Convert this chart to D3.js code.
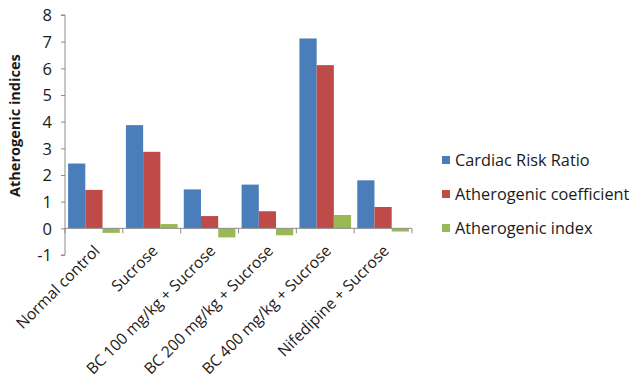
<!DOCTYPE html>
<html>
<head>
<meta charset="utf-8">
<script src="https://cdn.jsdelivr.net/npm/d3@7"></script>
<style>
  body { margin: 0; background: #fff; }
  svg text { font-family: "Open Sans", "DejaVu Sans", sans-serif; fill: #1a1a1a; }
</style>
</head>
<body>
<svg id="chart" width="644" height="383"></svg>
<script>
const categories = ["Normal control", "Sucrose", "BC 100 mg/kg + Sucrose",
  "BC 200 mg/kg + Sucrose", "BC 400 mg/kg + Sucrose", "Nifedipine + Sucrose"];
const seriesNames = ["Cardiac Risk Ratio", "Atherogenic coefficient", "Atherogenic index"];
const cardiacRiskRatio = [2.43, 3.87, 1.46, 1.64, 7.12, 1.80];
const atherogenicCoefficient = [1.44, 2.87, 0.46, 0.64, 6.12, 0.80];
const atherogenicIndex = [-0.17, 0.16, -0.34, -0.26, 0.50, -0.12];
const yTicks = [-1, 0, 1, 2, 3, 4, 5, 6, 7, 8];
const colors = ["#4a7ebb", "#be4b48", "#98b954"];

const seriesValues = [cardiacRiskRatio, atherogenicCoefficient, atherogenicIndex];
const svg = d3.select("#chart");

const plotLeft = 65, plotRight = 412, plotTop = 15, plotBottom = 255;

const x = d3.scaleBand().domain(categories).range([plotLeft, plotRight]).paddingInner(0).paddingOuter(0);
const inner = d3.scaleBand().domain(d3.range(seriesNames.length))
  .range([0, x.bandwidth()]).paddingInner(0).paddingOuter(0.18);
const y = d3.scaleLinear().domain([-1, 8]).range([plotBottom, plotTop]);

// bars
seriesNames.forEach((name, s) => {
  svg.append("g").selectAll("rect")
    .data(categories.map((c, i) => ({ c, v: seriesValues[s][i] })))
    .join("rect")
    .attr("x", d => x(d.c) + inner(s))
    .attr("width", inner.bandwidth())
    .attr("y", d => y(Math.max(0, d.v)))
    .attr("height", d => Math.abs(y(d.v) - y(0)))
    .attr("fill", colors[s]);
});

// y axis
const yAxis = svg.append("g")
  .attr("transform", `translate(${plotLeft},0)`)
  .call(d3.axisLeft(y).tickValues(yTicks).tickSize(4).tickPadding(9).tickFormat(d => String(d)));
yAxis.selectAll("path, line").attr("stroke", "#8c8c8c");
yAxis.select(".domain").attr("d", `M-4,${plotBottom}H0V${plotTop}H-4`);
yAxis.selectAll("text").style("font-size", "16.5px").attr("dy", "0.35em");

// category axis along zero
const boundaries = categories.map(c => x(c)).concat([plotRight]);
svg.append("line")
  .attr("x1", plotLeft).attr("x2", plotRight).attr("y1", y(0)).attr("y2", y(0))
  .attr("stroke", "#8c8c8c");
svg.append("g").selectAll("line")
  .data(boundaries)
  .join("line")
  .attr("x1", d => d).attr("x2", d => d)
  .attr("y1", y(0)).attr("y2", y(0) + 5)
  .attr("stroke", "#8c8c8c");

// category labels, rotated, placed under the plot
svg.append("g").selectAll("text")
  .data(categories)
  .join("text")
  .attr("transform", d => `translate(${x(d) + x.bandwidth() / 2 + 3},${plotBottom - 7}) rotate(-45)`)
  .attr("text-anchor", "end")
  .attr("dy", "0.35em")
  .style("font-size", "15.6px")
  .text(d => d);

// y axis title
svg.append("text")
  .attr("transform", `translate(20,${(plotTop + y(0)) / 2 + 4}) rotate(-90)`)
  .attr("text-anchor", "middle")
  .style("font-size", "14.5px")
  .style("font-weight", "bold")
  .text("Atherogenic indices");

// legend
const legend = svg.append("g").selectAll("g")
  .data(seriesNames)
  .join("g")
  .attr("transform", (d, i) => `translate(442,${160 + i * 34})`);
legend.append("rect")
  .attr("x", 0).attr("y", -4).attr("width", 8).attr("height", 8)
  .attr("fill", (d, i) => colors[i]);
legend.append("text")
  .attr("x", 13).attr("dy", "0.35em")
  .style("font-size", "16.3px")
  .text(d => d);
</script>
</body>
</html>
